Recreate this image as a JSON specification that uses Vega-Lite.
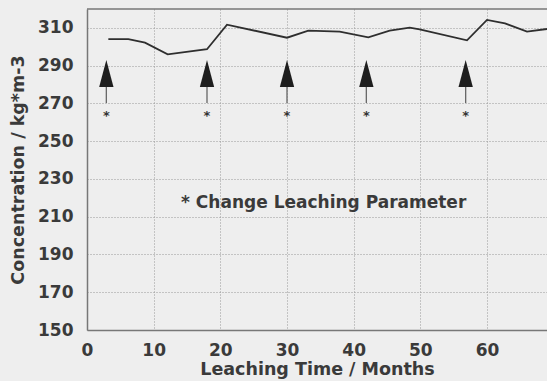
{
  "$schema": "https://vega.github.io/schema/vega-lite/v6.json",
  "autosize": {"type": "none"},
  "padding": {"left": 87, "top": 9, "right": 0, "bottom": 51},
  "width": 460,
  "height": 321,
  "background": "#eeeeee",
  "config": {
    "view": {"stroke": null, "fill": "#eeeeee"},
    "font": "DejaVu Sans",
    "axis": {
      "labelFont": "DejaVu Sans", "labelFontWeight": "bold", "labelFontSize": 17, "labelColor": "#3a3a3a",
      "titleFont": "DejaVu Sans", "titleFontWeight": "bold", "titleFontSize": 17.5, "titleColor": "#3a3a3a",
      "domainColor": "#777777", "domainWidth": 1.5,
      "ticks": false,
      "gridColor": "#999999", "gridDash": [1, 2], "gridWidth": 1, "gridOpacity": 1
    }
  },
  "datasets": {
    "series": [
      {"month": 3.2, "conc": 304.0},
      {"month": 6.2, "conc": 304.0},
      {"month": 8.7, "conc": 302.2},
      {"month": 12.1, "conc": 296.0},
      {"month": 18.0, "conc": 298.7},
      {"month": 21.0, "conc": 311.7},
      {"month": 30.0, "conc": 304.8},
      {"month": 33.2, "conc": 308.5},
      {"month": 37.9, "conc": 308.0},
      {"month": 42.2, "conc": 305.0},
      {"month": 45.4, "conc": 308.5},
      {"month": 48.4, "conc": 310.1},
      {"month": 49.9, "conc": 309.2},
      {"month": 57.0, "conc": 303.4},
      {"month": 60.0, "conc": 314.2},
      {"month": 62.7, "conc": 312.4},
      {"month": 66.0, "conc": 308.0},
      {"month": 69.0, "conc": 309.4}
    ],
    "changes": [
      {"month": 2.9},
      {"month": 18.0},
      {"month": 30.0},
      {"month": 41.9},
      {"month": 56.8}
    ]
  },
  "layer": [
    {
      "data": {"name": "series"},
      "mark": {"type": "line", "color": "#2e2e2e", "strokeWidth": 1.8},
      "encoding": {
        "x": {"field": "month", "type": "quantitative",
              "scale": {"domain": [0, 69], "nice": false, "zero": false},
              "axis": {"title": "Leaching Time / Months", "values": [0, 10, 20, 30, 40, 50, 60],
                       "labelPadding": 12, "titlePadding": 2, "labelFlush": false}},
        "y": {"field": "conc", "type": "quantitative",
              "scale": {"domain": [150, 320], "nice": false, "zero": false},
              "axis": {"title": "Concentration / kg*m-3", "values": [150, 170, 190, 210, 230, 250, 270, 290, 310],
                       "labelPadding": 14, "titlePadding": 10, "labelFlush": false}}
      }
    },
    {
      "data": {"values": [{}]},
      "mark": {"type": "rule", "color": "#777777", "strokeWidth": 1.5},
      "encoding": {"y": {"datum": 320}}
    },
    {
      "data": {"name": "changes"},
      "mark": {"type": "rule", "color": "#666666", "strokeWidth": 1.3},
      "encoding": {
        "x": {"field": "month", "type": "quantitative"},
        "y": {"datum": 270.2},
        "y2": {"datum": 279}
      }
    },
    {
      "data": {"name": "changes"},
      "mark": {"type": "point", "shape": "M0,-1L0.53,1L-0.53,1Z", "size": 729, "filled": true, "color": "#1e1e1e", "opacity": 1},
      "encoding": {
        "x": {"field": "month", "type": "quantitative"},
        "y": {"datum": 285.8}
      }
    },
    {
      "data": {"name": "changes"},
      "mark": {"type": "text", "text": "*", "font": "DejaVu Sans", "fontWeight": "bold", "fontSize": 13, "color": "#333333", "dy": 4},
      "encoding": {
        "x": {"field": "month", "type": "quantitative"},
        "y": {"datum": 265.5}
      }
    },
    {
      "data": {"values": [{"label": "* Change Leaching Parameter", "month": 35.5, "conc": 217}]},
      "mark": {"type": "text", "font": "DejaVu Sans", "fontWeight": "bold", "fontSize": 17, "color": "#3a3a3a"},
      "encoding": {
        "x": {"field": "month", "type": "quantitative"},
        "y": {"field": "conc", "type": "quantitative"},
        "text": {"field": "label"}
      }
    }
  ]
}
